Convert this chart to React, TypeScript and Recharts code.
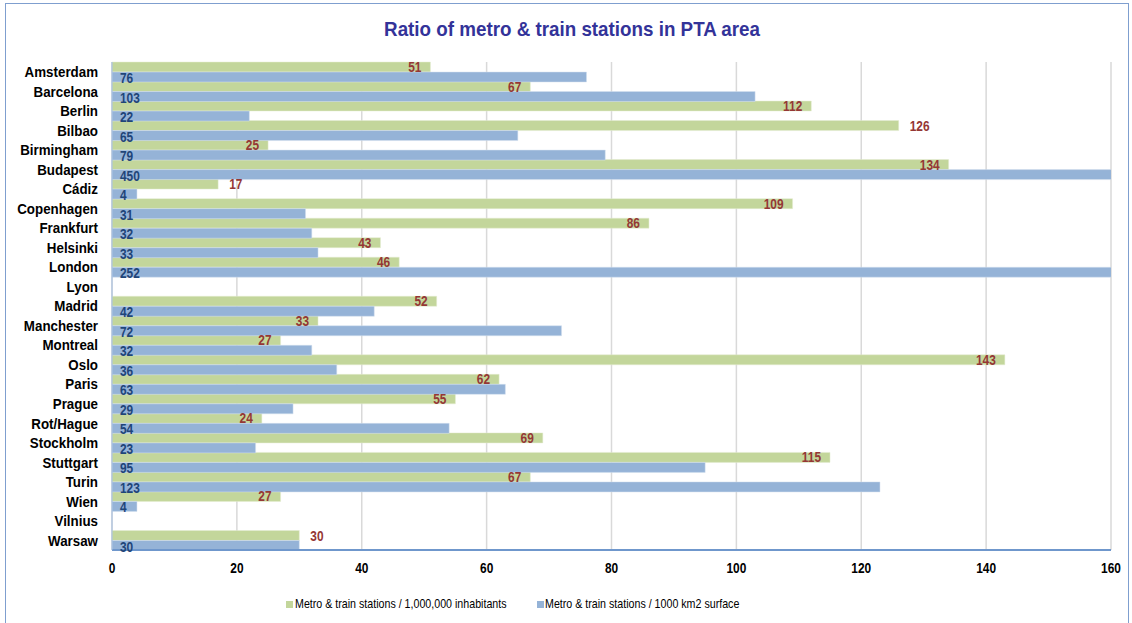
import React from "react";
import {
  BarChart,
  Bar,
  XAxis,
  YAxis,
  CartesianGrid,
  Legend,
  LabelList,
} from "recharts";

const cities = [
  "Amsterdam", "Barcelona", "Berlin", "Bilbao", "Birmingham", "Budapest", "Cádiz",
  "Copenhagen", "Frankfurt", "Helsinki", "London", "Lyon", "Madrid", "Manchester",
  "Montreal", "Oslo", "Paris", "Prague", "Rot/Hague", "Stockholm", "Stuttgart",
  "Turin", "Wien", "Vilnius", "Warsaw",
];

// stations per 1,000,000 inhabitants
const perMillion = [
  51, 67, 112, 126, 25, 134, 17, 109, 86, 43, 46, null, 52, 33, 27, 143, 62, 55, 24,
  69, 115, 67, 27, null, 30,
];

// stations per 1000 km2 of surface
const perArea = [
  76, 103, 22, 65, 79, 450, 4, 31, 32, 33, 252, null, 42, 72, 32, 36, 63, 29, 54,
  23, 95, 123, 4, null, 30,
];

const xTicks = [0, 20, 40, 60, 80, 100, 120, 140, 160];

const data = cities.map((city, i) => ({
  city,
  perMillion: perMillion[i],
  perArea: perArea[i],
}));

// cities with a green bar, in the order the label list walks them
const greenCities = cities.filter((_, i) => perMillion[i] != null);

// these labels sit just past the end of the bar instead of inside it
const labelOutside = new Set(["Bilbao", "Cádiz", "Warsaw"]);

const FONT = "'Liberation Sans', Arial, sans-serif";
const GREEN = "#c3d69b";
const BLUE = "#95b3d7";

// Liberation Sans squeezed horizontally to stand in for a narrow face
const NarrowText = ({ x, y, anchor, size, fill, children, dy, squeeze = 0.85 }: any) => (
  <text
    transform={`translate(${x},${y}) scale(${squeeze},1)`}
    textAnchor={anchor}
    dy={dy}
    fill={fill}
    fontFamily={FONT}
    fontSize={size}
    fontWeight="bold"
  >
    {children}
  </text>
);

const greenLabel = (props: any) => {
  const { x, y, width, height, value, index } = props;
  if (value == null) return null;
  const city = props.payload?.city ?? greenCities[index];
  const outside = labelOutside.has(city);
  return (
    <NarrowText
      x={outside ? x + width + 11 : x + width - 9}
      y={y + height / 2}
      dy="0.36em"
      anchor={outside ? "start" : "end"}
      size={14}
      fill="#953735"
    >
      {value}
    </NarrowText>
  );
};

const blueLabel = (props: any) => {
  const { x, y, height, value } = props;
  if (value == null) return null;
  return (
    <NarrowText x={x + 8} y={y + height / 2 + 1} dy="0.36em" anchor="start" size={14} fill="#1f4579">
      {value}
    </NarrowText>
  );
};

const cityTick = ({ x, y, payload }: any) => (
  <NarrowText x={x} y={y} dy="0.36em" anchor="end" size={15} fill="#000" squeeze={0.89}>
    {payload.value}
  </NarrowText>
);

const valueTick = ({ x, y, payload }: any) => (
  <NarrowText x={x} y={y} dy="0.71em" anchor="middle" size={14} fill="#000">
    {payload.value}
  </NarrowText>
);

const legendText: React.CSSProperties = {
  position: "absolute",
  top: 0,
  whiteSpace: "nowrap",
  transform: "scaleX(0.82)",
  transformOrigin: "left center",
  fontFamily: FONT,
  fontSize: 13,
  lineHeight: "18px",
  color: "#000",
};

const swatch = (left: number, color: string): React.CSSProperties => ({
  position: "absolute",
  left,
  top: 6,
  width: 7,
  height: 7,
  background: color,
});

const renderLegend = () => (
  <div style={{ position: "relative", height: 18, marginTop: 10 }}>
    <span style={swatch(286, GREEN)} />
    <span style={{ ...legendText, left: 295 }}>
      Metro &amp; train stations / 1,000,000 inhabitants
    </span>
    <span style={swatch(537, BLUE)} />
    <span style={{ ...legendText, left: 545 }}>
      Metro &amp; train stations / 1000 km2 surface
    </span>
  </div>
);

export default function App() {
  return (
    <div
      style={{
        position: "absolute",
        left: 0,
        top: 0,
        width: 1132,
        height: 623,
        background: "#fff",
        overflow: "hidden",
      }}
    >
      <div
        style={{
          position: "absolute",
          left: 5,
          top: 3,
          width: 1122,
          height: 640,
          border: "1px solid #7f9fcf",
        }}
      />
      <div
        style={{
          position: "absolute",
          top: 17,
          left: 6,
          width: 1132,
          textAlign: "center",
        }}
      >
        <span
          style={{
            display: "inline-block",
            transform: "scaleX(0.895)",
            fontFamily: FONT,
            fontWeight: "bold",
            fontSize: 21,
            color: "#333399",
          }}
        >
          Ratio of metro &amp; train stations in PTA area
        </span>
      </div>
      <BarChart
        width={1132}
        height={623}
        data={data}
        layout="vertical"
        barCategoryGap={0}
        barGap={0}
        margin={{ top: 62, right: 21, bottom: 20, left: 12 }}
      >
        <CartesianGrid horizontal={false} stroke="#d9d9d9" strokeWidth={1.5} />
        <XAxis
          type="number"
          domain={[0, 160]}
          ticks={xTicks}
          allowDataOverflow
          axisLine={{ stroke: "#6f97cc", strokeWidth: 2 }}
          tickLine={false}
          tick={valueTick}
          tickMargin={7}
          height={35}
        />
        <YAxis
          type="category"
          dataKey="city"
          width={100}
          axisLine={{ stroke: "#9fbbe0" }}
          tickLine={false}
          interval={0}
          tick={cityTick}
          tickMargin={8}
        />
        <Legend
          verticalAlign="bottom"
          height={18}
          wrapperStyle={{ left: 0, width: 1132 }}
          content={renderLegend}
        />
        <Bar
          dataKey="perMillion"
          name="Metro & train stations / 1,000,000 inhabitants"
          fill={GREEN}
          stroke="#e4edd2"
          strokeWidth={0.5}
          isAnimationActive={false}
        >
          <LabelList dataKey="perMillion" content={greenLabel} />
        </Bar>
        <Bar
          dataKey="perArea"
          name="Metro & train stations / 1000 km2 surface"
          fill={BLUE}
          stroke="#d5e1ef"
          strokeWidth={0.5}
          isAnimationActive={false}
        >
          <LabelList dataKey="perArea" content={blueLabel} />
        </Bar>
      </BarChart>
    </div>
  );
}
